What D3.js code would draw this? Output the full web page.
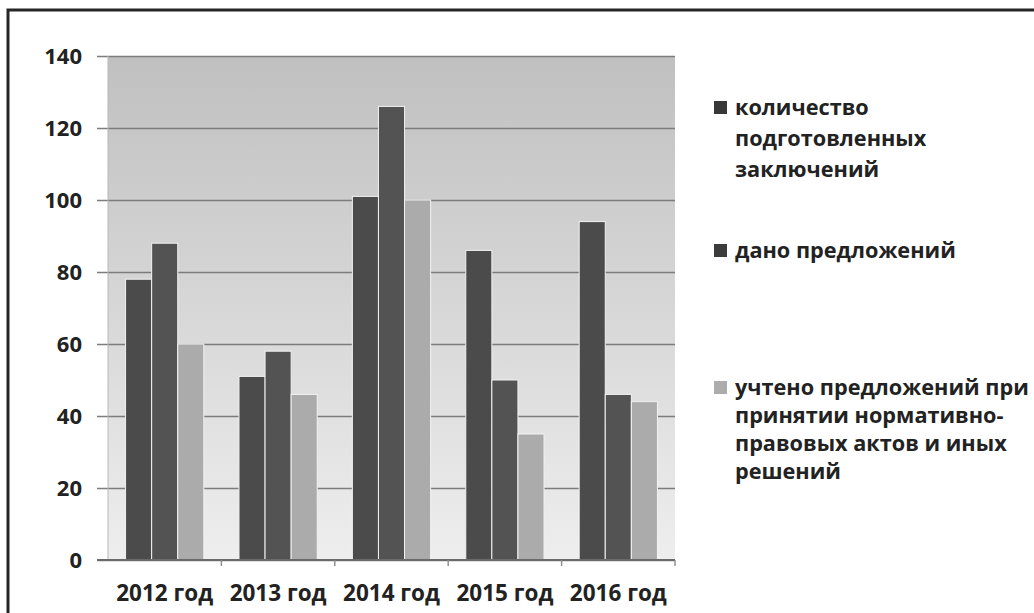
<!DOCTYPE html>
<html>
<head>
<meta charset="utf-8">
<script src="https://cdn.jsdelivr.net/npm/d3@7"></script>
<style>
  body { margin: 0; background: #fff; }
  text { font-family: "Open Sans", sans-serif; font-weight: 700; fill: #222; }
</style>
</head>
<body>
<div id="vis1"></div>
<script>
const frame_width = 1034;
const frame_height = 613;
const plot = {left: 108, right: 675, top: 56, bottom: 560};

// data
const categories = ["2012 год", "2013 год", "2014 год", "2015 год", "2016 год"];
const series_names = [
    ["количество", "подготовленных", "заключений"],
    ["дано предложений"],
    ["учтено предложений при", "принятии нормативно-", "правовых актов и иных", "решений"]
];
const prepared = [78, 51, 101, 86, 94];
const proposed = [88, 58, 126, 50, 46];
const accepted = [60, 46, 100, 35, 44];
const y_ticks = [0, 20, 40, 60, 80, 100, 120, 140];

const series_colors = ["#4b4b4b", "#535353", "#ababab"];
const legend_colors = ["#383838", "#3c3c3c", "#acacac"];

const all_series = [prepared, proposed, accepted];

const svg = d3.select("#vis1")
    .append("svg")
        .attr("width", frame_width)
        .attr("height", frame_height);

// plot background gradient
const grad = svg.append("defs").append("linearGradient")
    .attr("id", "bg")
    .attr("x1", 0).attr("y1", 0).attr("x2", 0).attr("y2", 1);
grad.append("stop").attr("offset", "0%").attr("stop-color", "#c0c0c0");
grad.append("stop").attr("offset", "100%").attr("stop-color", "#eeeeee");

// outer frame
svg.append("rect")
    .attr("x", 8).attr("y", 10)
    .attr("width", 1100).attr("height", 700)
    .attr("fill", "none")
    .attr("stroke", "#262626")
    .attr("stroke-width", 3);

const y_scale = d3.scaleLinear()
    .domain([0, 140])
    .range([plot.bottom, plot.top]);

const x_scale = d3.scaleBand()
    .domain(categories)
    .range([plot.left, plot.right]);

const group_w = x_scale.bandwidth() * 0.69;
const x_inner = d3.scaleBand()
    .domain([0, 1, 2])
    .range([(x_scale.bandwidth() - group_w) / 2, (x_scale.bandwidth() + group_w) / 2]);

svg.append("rect")
    .attr("x", plot.left)
    .attr("y", plot.top)
    .attr("width", plot.right - plot.left)
    .attr("height", plot.bottom - plot.top)
    .attr("fill", "url(#bg)");

// gridlines with outside ticks on the left
svg.append("g")
    .attr("transform", "translate(" + plot.left + ",0)")
    .call(d3.axisLeft(y_scale)
        .tickValues(y_ticks)
        .tickSize(-(plot.right - plot.left))
        .tickPadding(26)
        .tickFormat(d3.format("d")))
    .call(g => g.select(".domain").remove())
    .call(g => g.selectAll(".tick line")
        .attr("x1", -11)
        .attr("stroke", "#7c7c7c")
        .attr("stroke-width", 1.6))
    .call(g => g.selectAll(".tick text")
        .attr("font-size", "22px")
        .attr("fill", "#222"));

svg.append("line")
    .attr("x1", plot.left).attr("x2", plot.left)
    .attr("y1", plot.top).attr("y2", plot.bottom)
    .attr("stroke", "#b8b8b8");

// bars
categories.forEach((c, i) => {
    all_series.forEach((s, k) => {
        svg.append("rect")
            .attr("x", x_scale(c) + x_inner(k))
            .attr("y", y_scale(s[i]))
            .attr("width", x_inner.bandwidth())
            .attr("height", y_scale(0) - y_scale(s[i]))
            .attr("fill", series_colors[k])
            .attr("stroke", "#f2f2f2")
            .attr("stroke-width", 1);
    });
});

// category axis
svg.append("g")
    .attr("transform", "translate(0," + plot.bottom + ")")
    .call(d3.axisBottom(x_scale).tickSize(0).tickPadding(25))
    .call(g => g.select(".domain")
        .attr("d", "M" + (plot.left - 11) + ",0H" + plot.right)
        .attr("stroke", "#6a6a6a")
        .attr("stroke-width", 1.8))
    .call(g => g.selectAll(".tick text")
        .attr("font-size", "22.5px")
        .attr("fill", "#222"));

svg.append("g")
    .selectAll("line")
    .data(categories.slice(1).concat(["end"]))
    .enter()
    .append("line")
        .attr("x1", (d) => d === "end" ? plot.right : x_scale(d))
        .attr("x2", (d) => d === "end" ? plot.right : x_scale(d))
        .attr("y1", plot.bottom)
        .attr("y2", plot.bottom + 6)
        .attr("stroke", "#8a8a8a")
        .attr("stroke-width", 1.4);

// legend
const legend_y = [115, 258, 395];
const line_h = [31, 30, 28];
series_names.forEach((lines, k) => {
    svg.append("rect")
        .attr("x", 714)
        .attr("y", legend_y[k] - 14)
        .attr("width", 13)
        .attr("height", 13)
        .attr("fill", legend_colors[k]);
    const t = svg.append("text")
        .attr("x", 735)
        .attr("y", legend_y[k])
        .attr("font-size", "21.7px");
    lines.forEach((ln, j) => {
        t.append("tspan")
            .attr("x", 735)
            .attr("dy", j === 0 ? 0 : line_h[k])
            .text(ln);
    });
});
</script>
</body>
</html>
